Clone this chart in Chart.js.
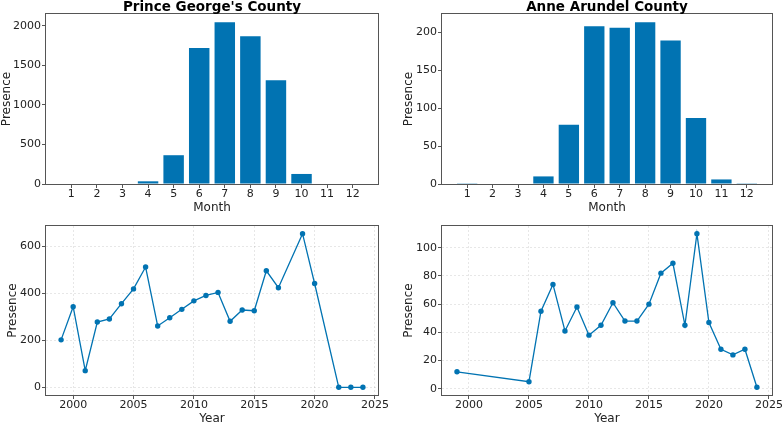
<!DOCTYPE html>
<html>
<head>
<meta charset="utf-8">
<script src="https://cdn.jsdelivr.net/npm/chart.js@4/dist/chart.umd.min.js"></script>
<style>
  html, body { margin: 0; padding: 0; background: #ffffff; }
  #wrap { position: relative; width: 783px; height: 424px; overflow: hidden; }
  canvas { position: absolute; left: 0; top: 0; }
</style>
</head>
<body>
<div id="wrap">
  <canvas id="c1" width="783" height="424"></canvas>
  <canvas id="c2" width="783" height="424"></canvas>
  <canvas id="c3" width="783" height="424"></canvas>
  <canvas id="c4" width="783" height="424"></canvas>
</div>
<script>
// ---------------- data ----------------
const months = [1, 2, 3, 4, 5, 6, 7, 8, 9, 10, 11, 12];
const pgMonthly = [0, 0, 0, 34, 364, 1721, 2046, 1869, 1311, 127, 0, 0];
const aaMonthly = [1, 0, 0, 10, 78, 208, 206, 213, 189, 87, 6, 1];

const pgYears  = [1999, 2000, 2001, 2002, 2003, 2004, 2005, 2006, 2007, 2008, 2009, 2010, 2011, 2012, 2013, 2014, 2015, 2016, 2017, 2019, 2020, 2022, 2023, 2024];
const pgYearly = [202, 343, 71, 278, 291, 356, 419, 512, 261, 296, 332, 368, 391, 404, 281, 329, 326, 496, 424, 654, 442, 0, 0, 0];

const aaYears  = [1999, 2005, 2006, 2007, 2008, 2009, 2010, 2011, 2012, 2013, 2014, 2015, 2016, 2017, 2018, 2019, 2020, 2021, 2022, 2023, 2024];
const aaYearly = [12, 5, 55, 74, 41, 58, 38, 45, 61, 48, 48, 60, 82, 89, 45, 110, 47, 28, 24, 28, 1];

const titles = ["Prince George's County", "Anne Arundel County"];
const monthTicks = months;
const yearTicks = [2000, 2005, 2010, 2015, 2020, 2025];
const pgMonthTicks = [0, 500, 1000, 1500, 2000];
const aaMonthTicks = [0, 50, 100, 150, 200];
const pgYearTicks = [0, 200, 400, 600];
const aaYearTicks = [0, 20, 40, 60, 80, 100];

// ---------------- styling ----------------
const BLUE = '#0173b2';
const SPINE = '#555555';
const TEXT = '#222222';
Chart.defaults.font.family = '"DejaVu Sans", sans-serif';
Chart.defaults.color = TEXT;
Chart.defaults.animation = false;

const framePlugin = {
  id: 'frame',
  afterDraw(chart, args, opts) {
    const a = chart.chartArea, ctx = chart.ctx;
    ctx.save();
    ctx.strokeStyle = SPINE;
    ctx.lineWidth = 1;
    ctx.strokeRect(Math.round(a.left) - 0.5, Math.round(a.top) - 0.5,
                   Math.round(a.right - a.left) + 1, Math.round(a.bottom - a.top) + 1);
    if (opts.title) {
      ctx.font = 'bold 13.5px "DejaVu Sans", sans-serif';
      ctx.fillStyle = '#000000';
      ctx.textAlign = 'center';
      ctx.textBaseline = 'alphabetic';
      ctx.fillText(opts.title, (a.left + a.right) / 2, opts.titleY);
    }
    ctx.restore();
  }
};

function fixedTicks(list) {
  return (s) => { s.ticks = list.map(v => ({ value: v })); };
}

function makePanel(id, p) {
  const isBar = p.kind === 'bar';
  const points = p.xs.map((x, i) => ({ x: x, y: p.ys[i] }));
  const dataset = isBar ? {
    data: points,
    backgroundColor: BLUE,
    borderWidth: 0,
    categoryPercentage: 1.0,
    barPercentage: 0.8
  } : {
    data: points,
    borderColor: BLUE,
    backgroundColor: BLUE,
    borderWidth: 1.3,
    pointRadius: 2.7,
    pointBorderWidth: 0,
    pointBackgroundColor: BLUE,
    tension: 0,
    fill: false
  };
  const grid = isBar ? {
    drawOnChartArea: false, drawTicks: true, tickLength: 4, tickColor: SPINE, tickWidth: 1
  } : {
    drawOnChartArea: true, drawTicks: true, tickLength: 4, tickColor: SPINE, tickWidth: 1,
    color: 'rgba(0,0,0,0.12)', lineWidth: 0.8, tickBorderDash: []
  };
  const border = isBar ? { display: false } : { display: false, dash: [2, 2] };
  return new Chart(document.getElementById(id), {
    type: isBar ? 'bar' : 'line',
    data: { datasets: [dataset] },
    plugins: [framePlugin],
    options: {
      responsive: false,
      animation: false,
      events: [],
      layout: {
        padding: {
          left: p.regionLeft,
          top: p.plotTop,
          right: 783 - p.plotRight,
          bottom: 424 - p.regionBottom
        }
      },
      plugins: {
        legend: { display: false },
        tooltip: { enabled: false },
        frame: { title: p.title || '', titleY: 11 }
      },
      scales: {
        x: {
          type: 'linear',
          offset: false,
          min: p.xmin, max: p.xmax,
          afterBuildTicks: fixedTicks(p.xTicks),
          afterFit: (s) => { s.height = p.regionBottom - p.plotBottom; },
          grid: Object.assign({}, grid, { offset: false }),
          border: border,
          ticks: {
            autoSkip: false, maxRotation: 0, padding: 0,
            font: { size: 11 }, color: TEXT,
            callback: (v) => String(v)
          },
          title: {
            display: true, text: p.xTitle,
            font: { size: 12, lineHeight: 1 }, color: TEXT,
            padding: { top: 0, bottom: p.xTitlePad }
          }
        },
        y: {
          type: 'linear',
          min: p.ymin, max: p.ymax,
          afterBuildTicks: fixedTicks(p.yTicks),
          afterFit: (s) => { s.width = p.plotLeft - p.regionLeft; },
          grid: grid,
          border: border,
          ticks: {
            padding: 1,
            font: { size: 11 }, color: TEXT,
            callback: (v) => String(v)
          },
          title: {
            display: true, text: 'Presence',
            font: { size: 12, lineHeight: 1 }, color: TEXT,
            padding: { top: p.yTitlePad, bottom: 0 }
          }
        }
      }
    }
  });
}

makePanel('c1', {
  kind: 'bar', xs: months, ys: pgMonthly, title: titles[0],
  regionLeft: 0, plotLeft: 46, plotTop: 14, plotRight: 378, plotBottom: 184, regionBottom: 214,
  xmin: 0.01, xmax: 12.99, xTicks: monthTicks, ymin: 0, ymax: 2150, yTicks: pgMonthTicks,
  xTitle: 'Month', xTitlePad: 0.5, yTitlePad: 0.5
});
makePanel('c2', {
  kind: 'bar', xs: months, ys: aaMonthly, title: titles[1],
  regionLeft: 392, plotLeft: 442, plotTop: 14, plotRight: 772, plotBottom: 184, regionBottom: 214,
  xmin: 0.01, xmax: 12.99, xTicks: monthTicks, ymin: 0, ymax: 224, yTicks: aaMonthTicks,
  xTitle: 'Month', xTitlePad: 0.5, yTitlePad: 11
});
makePanel('c3', {
  kind: 'line', xs: pgYears, ys: pgYearly,
  regionLeft: 0, plotLeft: 46, plotTop: 226, plotRight: 378, plotBottom: 395, regionBottom: 424,
  xmin: 1997.75, xmax: 2025.25, xTicks: yearTicks, ymin: -32.7, ymax: 686.7, yTicks: pgYearTicks,
  xTitle: 'Year', xTitlePad: -1, yTitlePad: 7
});
makePanel('c4', {
  kind: 'line', xs: aaYears, ys: aaYearly,
  regionLeft: 392, plotLeft: 442, plotTop: 226, plotRight: 772, plotBottom: 395, regionBottom: 424,
  xmin: 1997.75, xmax: 2025.25, xTicks: yearTicks, ymin: -4.45, ymax: 115.45, yTicks: aaYearTicks,
  xTitle: 'Year', xTitlePad: -1, yTitlePad: 10.5
});
</script>
</body>
</html>
